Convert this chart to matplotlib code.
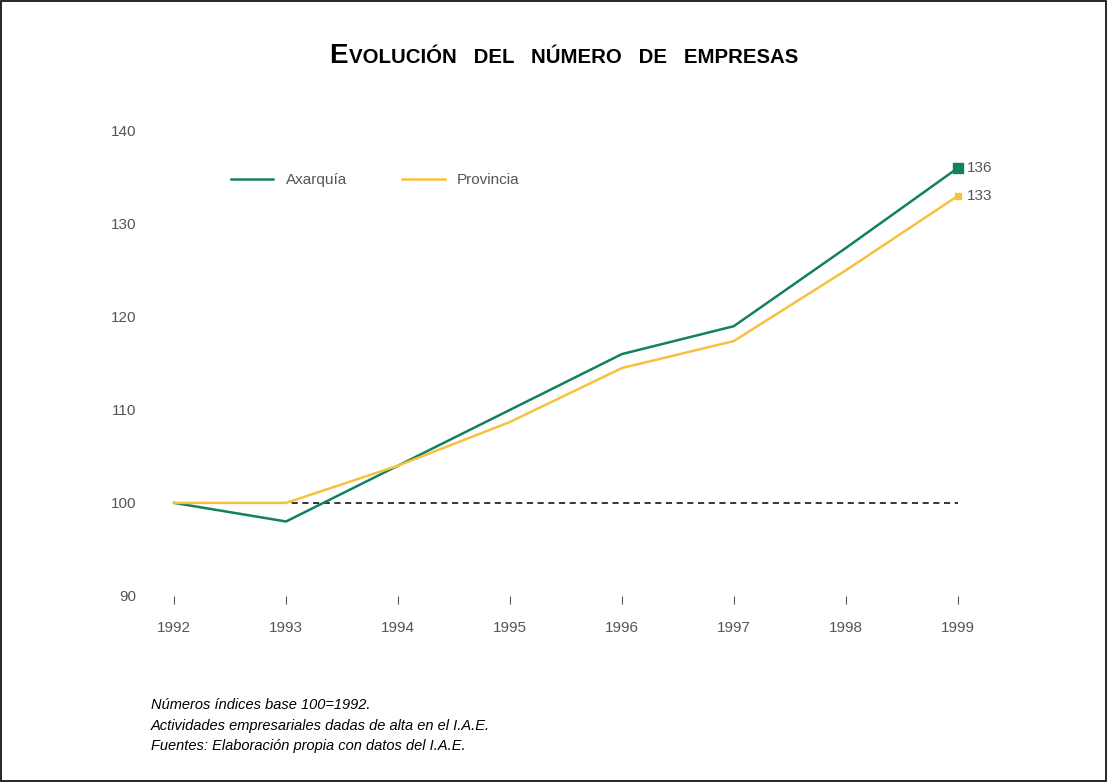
import numpy as np
import matplotlib.pyplot as plt
from matplotlib.patches import Rectangle

years = [1992, 1993, 1994, 1995, 1996, 1997, 1998, 1999]
axarquia = [100, 98, 104, 110, 116, 119, 127.4, 136]
provincia = [100, 100, 104, 108.7, 114.5, 117.4, 125, 133]
yticks = [90, 100, 110, 120, 130, 140]
notes = ["Números índices base 100=1992.",
         "Actividades empresariales dadas de alta en el I.A.E.",
         "Fuentes: Elaboración propia con datos del I.A.E."]

green = '#13805f'
yellow = '#f6c23e'
grey = '#555555'

plt.rcParams['font.family'] = ['Liberation Sans', 'DejaVu Sans']

fig = plt.figure(figsize=(11.07, 7.82), dpi=100)
ax = fig.add_axes([0.131, 0.238, 0.772, 0.5946])

# línea base 100
ax.plot([years[0], years[-1]], [100, 100], color='black', lw=1.1, ls=(0, (4, 3)))
ax.plot(years, axarquia, color=green, lw=1.8, label='Axarquía')
ax.plot(years, provincia, color=yellow, lw=1.8, label='Provincia')
ax.plot(years[-1], axarquia[-1], marker='s', ms=7, color=green)
ax.plot(years[-1], provincia[-1], marker='s', ms=5, color=yellow)
ax.text(years[-1] + 0.08, axarquia[-1], f'{axarquia[-1]:.0f}', color=grey,
        fontsize=11, va='center')
ax.text(years[-1] + 0.08, provincia[-1], f'{provincia[-1]:.0f}', color=grey,
        fontsize=11, va='center')

ax.set_xlim(1991.74, 1999.375)
ax.set_ylim(90, 140)
ax.set_xticks(years)
ax.set_xticklabels([str(y) for y in years], color=grey, fontsize=11)
ax.set_yticks(yticks)
ax.set_yticklabels([str(v) for v in yticks], color=grey, fontsize=11)
ax.tick_params(axis='y', length=0, pad=6)
ax.tick_params(axis='x', length=6, color=grey, pad=12)
for s in ax.spines.values():
    s.set_visible(False)

fig.legend(loc='center left', bbox_to_anchor=(0.196, 0.77), ncol=2, frameon=False,
           fontsize=11, handlelength=2.8, columnspacing=3.6, labelcolor=grey)

# título en versalitas
fig.text(0.314, 0.919, 'E', fontsize=20, fontweight='bold', ha='right', va='baseline')
fig.text(0.315, 0.919, 'VOLUCIÓN   DEL   NÚMERO   DE   EMPRESAS', fontsize=14.7,
         fontweight='bold', ha='left', va='baseline')

for i, n in enumerate(notes):
    fig.text(0.136, 0.098 - i * 0.026, n, fontsize=10.5, style='italic', va='center')

fig.patches.append(Rectangle((0.001, 0.001), 0.998, 0.998, transform=fig.transFigure,
                             fill=False, edgecolor='black', lw=1.2))

plt.savefig('out.png', dpi=100)
plt.close()
